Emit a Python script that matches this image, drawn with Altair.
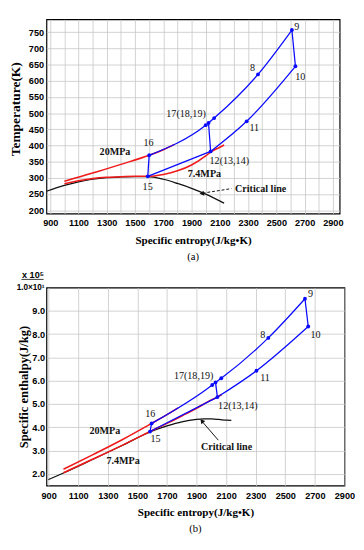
import altair as alt
import pandas as pd

# ---------------- panel (a): temperature vs specific entropy ----------------
# blue cycle, piecewise (each piece drawn separately)
a_upper_s = [1600, 2000, 2020, 2060, 2370, 2610]      # 16-17-18-19-8-9
a_upper_v = [370, 463, 470, 485, 620, 757]
a_lower_s = [2035, 2290, 2635]                         # 12-11-10
a_lower_v = [382, 475, 645]
a_hot_s = [2610, 2635]                                 # 9-10
a_hot_v = [757, 645]
a_pump_s = [1590, 1600]                                # 15-16
a_pump_v = [305, 370]
a_cool_s = [1590, 2035]                                # 15-12
a_cool_v = [305, 382]
a_drop_s = [2020, 2035]                                # 18-12
a_drop_v = [470, 382]
a_dot_s = [1590, 1600, 2000, 2020, 2060, 2370, 2610, 2635, 2290, 2035]
a_dot_v = [305, 370, 463, 470, 485, 620, 757, 645, 475, 382]
a_p20_s = [1000, 1200, 1400, 1600, 1700, 1775]
a_p20_v = [290, 315, 342, 370, 387, 403]
a_p74_s = [1000, 1100, 1200, 1300, 1400, 1500, 1590, 1700, 1800, 1900, 2000, 2035, 2100, 2130]
a_p74_v = [282, 291, 298, 302, 304, 305, 305, 311, 322, 340, 368, 380, 395, 402]
a_crit_s = [873, 1000, 1100, 1200, 1300, 1400, 1500, 1590, 1700, 1800, 1900, 2000, 2130]
a_crit_v = [259, 277, 288, 296, 301, 303, 304, 304, 296, 283, 268, 250, 222]
a_lab_text = ["9", "8", "10", "11", "17(18,19)", "16", "12(13,14)", "15"]
a_lab_s = [2644, 2331, 2669, 2344, 1861, 1596, 2167, 1589]
a_lab_v = [767, 638, 611, 454, 496, 408, 351, 272]
a_bold_text = ["20MPa", "7.4MPa", "Critical line"]
a_bold_s = [1358, 1991, 2389]
a_bold_v = [381, 311, 267]
a_arrow_s = [2182, 1978]
a_arrow_v = [267, 253]
a_head_s = [1972]
a_head_v = [252]

# ---------------- panel (b): enthalpy vs specific entropy (x 10^5 J/kg) ----------------
b_upper_s = [1596, 2006, 2028, 2067, 2385, 2633]
b_upper_v = [4.17, 5.82, 5.93, 6.11, 7.84, 9.52]
b_lower_s = [2041, 2305, 2655]
b_lower_v = [5.30, 6.43, 8.33]
b_hot_s = [2633, 2655]
b_hot_v = [9.52, 8.33]
b_pump_s = [1585, 1596]
b_pump_v = [3.82, 4.17]
b_cool_s = [1585, 2041]
b_cool_v = [3.82, 5.30]
b_drop_s = [2028, 2041]
b_drop_v = [5.93, 5.30]
b_dot_s = [1585, 1596, 2006, 2028, 2067, 2385, 2633, 2655, 2305, 2041]
b_dot_v = [3.82, 4.17, 5.82, 5.93, 6.11, 7.84, 9.52, 8.33, 6.43, 5.30]
b_p20_s = [1000, 1200, 1400, 1596, 1700, 1775]
b_p20_v = [2.20, 2.83, 3.48, 4.17, 4.55, 4.84]
b_p74_s = [1000, 1200, 1400, 1585, 1700, 1800, 1900, 2000, 2041, 2070]
b_p74_v = [2.05, 2.64, 3.24, 3.82, 4.17, 4.49, 4.82, 5.18, 5.30, 5.41]
b_crit_s = [898, 1000, 1200, 1400, 1585, 1700, 1800, 1900, 1950, 2000, 2050, 2100, 2135]
b_crit_v = [1.76, 2.04, 2.63, 3.23, 3.80, 4.06, 4.24, 4.34, 4.36, 4.36, 4.34, 4.31, 4.30]
b_lab_text = ["9", "8", "10", "11", "17(18,19)", "12(13,14)", "16", "15"]
b_lab_s = [2671, 2348, 2704, 2363, 1880, 2179, 1587, 1622]
b_lab_v = [9.72, 7.95, 7.97, 6.12, 6.22, 4.93, 4.59, 3.49]
b_bold_text = ["20MPa", "7.4MPa", "Critical line"]
b_bold_s = [1280, 1403, 2103]
b_bold_v = [3.86, 2.56, 3.17]
b_arrow_s = [2047, 1942]
b_arrow_v = [3.45, 4.22]
b_head_s = [1936]
b_head_v = [4.28]

BLUE = "#0a0aff"
RED = "#f01a1a"
BLACK = "#111111"
SERIF = "Liberation Serif"
SANS = "Liberation Sans"


def df(s, v):
    return pd.DataFrame({"s": s, "v": v})


def segs(pieces):
    frames = []
    for k, (s, v) in enumerate(pieces):
        frames.append(pd.DataFrame({"s": s, "v": v, "g": k}))
    return pd.concat(frames, ignore_index=True)


def tdf(s, v, t):
    return pd.DataFrame({"s": s, "v": v, "t": t})


def build(xs, ys, sd):
    def line(data, color, width, dash=None, interp="monotone"):
        kw = dict(color=color, strokeWidth=width, interpolate=interp)
        if dash:
            kw["strokeDash"] = dash
        return alt.Chart(data).mark_line(**kw).encode(
            x=xs, y=ys, detail="g:N", order="s:Q")

    layers = [
        line(segs([sd["crit"]]), BLACK, 1.3),
        line(segs([sd["p74"]]), RED, 1.6),
        line(segs([sd["p20"]]), RED, 1.6),
        line(segs(sd["blue"]), BLUE, 1.3),
        alt.Chart(df(*sd["dots"])).mark_point(
            filled=True, color=BLUE, size=16, opacity=1).encode(x=xs, y=ys),
        line(segs([sd["arrow"]]), BLACK, 1.0, sd.get("dash"), "linear"),
        alt.Chart(df(*sd["head"])).mark_point(
            shape=sd["head_shape"], angle=sd["head_angle"], filled=True,
            color=BLACK, size=28, opacity=1).encode(x=xs, y=ys),
        alt.Chart(tdf(*sd["lab"])).mark_text(
            font=SERIF, fontSize=10.5, color=BLACK, align="center",
            baseline="middle").encode(x=xs, y=ys, text="t:N"),
        alt.Chart(tdf(*sd["bold"])).mark_text(
            font=SERIF, fontSize=10.5, fontWeight="bold", color=BLACK,
            align="center", baseline="middle").encode(x=xs, y=ys, text="t:N"),
    ]
    return layers


axis_common = dict(grid=True, ticks=False, domain=False, gridColor="#c6c6c6",
                   gridWidth=0.8, labelFont=SANS, labelFontWeight="bold",
                   labelFontSize=9.5, labelColor="black", labelOverlap=False,
                   labelFlush=False, titleFont=SERIF, titleFontWeight="bold",
                   titleColor="black")

# ---- panel (a)
xa = alt.X("s:Q", scale=alt.Scale(domain=[873, 2948], nice=False, zero=False),
           axis=alt.Axis(values=list(range(900, 3000, 100)),
                         labelExpr="datum.value % 200 == 100 ? datum.label : ''",
                         format="d", labelPadding=4.5, titlePadding=8,
                         title="Specific entropy(J/kg\u2022K)", titleFontSize=11.5,
                         **axis_common))
ya = alt.Y("v:Q", scale=alt.Scale(domain=[190, 790], nice=False, zero=False),
           axis=alt.Axis(values=list(range(200, 800, 50)), format="d",
                         labelPadding=3, title="Temperature(K)", titleFontSize=14,
                         titleX=-32, titleY=93, titleAngle=270, titleAlign="center",
                         titleBaseline="middle", **axis_common))
sa = dict(crit=(a_crit_s, a_crit_v), p74=(a_p74_s, a_p74_v), p20=(a_p20_s, a_p20_v),
          blue=[(a_upper_s, a_upper_v), (a_lower_s, a_lower_v), (a_hot_s, a_hot_v),
                (a_pump_s, a_pump_v), (a_cool_s, a_cool_v), (a_drop_s, a_drop_v)],
          dots=(a_dot_s, a_dot_v), arrow=(a_arrow_s, a_arrow_v), dash=[3, 2],
          head=(a_head_s, a_head_v), head_shape="triangle-left", head_angle=351,
          lab=(a_lab_s, a_lab_v, a_lab_text), bold=(a_bold_s, a_bold_v, a_bold_text))
panel_a = alt.layer(*build(xa, ya, sa)).properties(
    width=305, height=202,
    title=alt.TitleParams("(a)", orient="bottom", font=SERIF, fontSize=11,
                          fontWeight="normal", color="black", offset=6))

# ---- panel (b)
xb = alt.X("s:Q", scale=alt.Scale(domain=[885, 2900], nice=False, zero=False),
           axis=alt.Axis(values=list(range(900, 3000, 200)), format="d",
                         labelPadding=5, titlePadding=7.5,
                         title="Specific entropy(J/kg\u2022K)", titleFontSize=11.5,
                         **axis_common))
yb = alt.Y("v:Q", scale=alt.Scale(domain=[1.5, 10.0], nice=False, zero=False),
           axis=alt.Axis(values=[2, 3, 4, 5, 6, 7, 8, 9], format=".1f",
                         labelPadding=2, title="Specific enthalpy(J/kg)", titleFontSize=13,
                         titleX=-24, titleY=103, titleAngle=270, titleAlign="center",
                         titleBaseline="middle", **axis_common))
sb = dict(crit=(b_crit_s, b_crit_v), p74=(b_p74_s, b_p74_v), p20=(b_p20_s, b_p20_v),
          blue=[(b_upper_s, b_upper_v), (b_lower_s, b_lower_v), (b_hot_s, b_hot_v),
                (b_pump_s, b_pump_v), (b_cool_s, b_cool_v), (b_drop_s, b_drop_v)],
          dots=(b_dot_s, b_dot_v), arrow=(b_arrow_s, b_arrow_v),
          head=(b_head_s, b_head_v), head_shape="triangle-up", head_angle=320,
          lab=(b_lab_s, b_lab_v, b_lab_text), bold=(b_bold_s, b_bold_v, b_bold_text))
top_label = alt.Chart(tdf([885], [10.0], ["1.0\u00d710\u00b9"])).mark_text(
    font=SANS, fontWeight="bold", fontSize=8.5, color="black", align="right",
    baseline="middle", dx=-2).encode(x=xb, y=yb, text="t:N")
mult_label = alt.Chart(tdf([885], [10.0], ["x 10\u2075"])).mark_text(
    font=SANS, fontWeight="bold", fontSize=9.5, color="black", align="center",
    baseline="middle", dx=-14, dy=-13).encode(x=xb, y=yb, text="t:N")
mult_rule = alt.Chart(tdf([885], [10.0], [""])).mark_rule(
    color="black", strokeWidth=0.8).encode(
    x=alt.value(-26), x2=alt.value(-3), y=alt.value(-8.5))
panel_b = alt.layer(*build(xb, yb, sb), top_label, mult_label, mult_rule).properties(
    width=310, height=206,
    title=alt.TitleParams("(b)", orient="bottom", font=SERIF, fontSize=11,
                          fontWeight="normal", color="black", offset=6))

chart = alt.concat(panel_a, panel_b, columns=1, spacing=6, align="none").properties(
    padding=0, background="white"
).configure_view(stroke="black", strokeWidth=1.2)

chart.save("out.html", embed_options={"renderer": "svg", "actions": False})
